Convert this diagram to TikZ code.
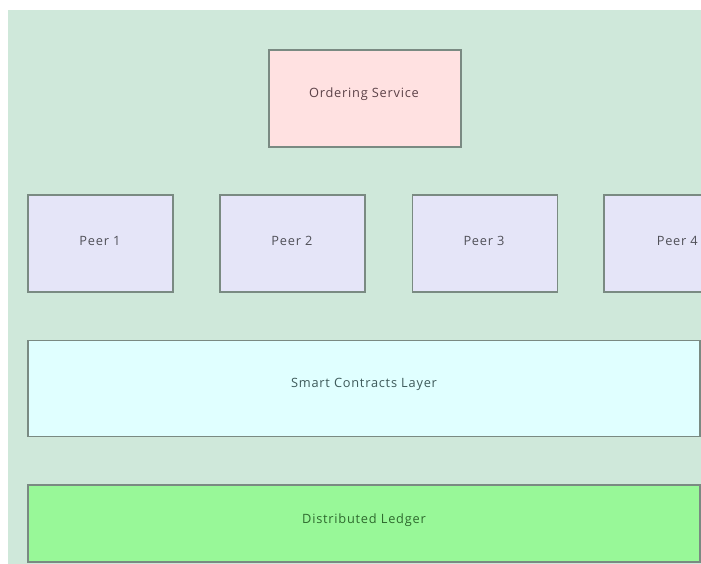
\documentclass[tikz,border=0pt]{standalone}
\usepackage{fontspec}
\setmainfont{Open Sans}[LetterSpace=6]
\definecolor{canvasbg}{HTML}{CFE8DA}
\definecolor{edgegray}{HTML}{7A8A82}
\definecolor{orderfill}{HTML}{FFE1E1}
\definecolor{peerfill}{HTML}{E5E5F8}
\definecolor{contractfill}{HTML}{E0FFFF}
\definecolor{ledgerfill}{HTML}{98F898}
\definecolor{peertext}{HTML}{505058}
\definecolor{ordertext}{HTML}{5C4248}
\definecolor{contracttext}{HTML}{3E5A5A}
\definecolor{ledgertext}{HTML}{2E6A2E}
\begin{document}
\begin{tikzpicture}[x=1pt,y=-1pt,
  block/.style={draw=edgegray,line width=1.4pt,inner sep=0pt},
  caption/.style={font=\fontsize{12.8}{14}\selectfont,inner sep=0pt},
  peerbox/.style={block,fill=peerfill,minimum width=145pt,minimum height=97pt}]
\useasboundingbox (0,0) rectangle (701,564);
\clip (0,0) rectangle (701,564);
% canvas
\fill[canvasbg] (8,10) rectangle (701,564);
% ordering service
\node[block,fill=orderfill,minimum width=192pt,minimum height=97pt] (order) at (365,98.5) {};
\node[caption,text=ordertext] (orderlbl) at (364,94.5) {Ordering Service};
% peers
\node[peerbox] (p1) at (100.5,243.5) {};
\node[peerbox] (p2) at (292.5,243.5) {};
\node[peerbox] (p3) at (485,243.5) {};
\node[peerbox] (p4) at (676.5,243.5) {};
\node[caption,text=peertext] (p1lbl) at (100,240.5) {Peer 1};
\node[caption,text=peertext] (p2lbl) at (292,240.5) {Peer 2};
\node[caption,text=peertext] (p3lbl) at (484,240.5) {Peer 3};
\node[caption,text=peertext,anchor=east] (p4lbl) at (698,240.5) {Peer 4};
% layers
\node[block,fill=contractfill,minimum width=672pt,minimum height=96pt] (contracts) at (364,388.5) {};
\node[caption,text=contracttext] (contractslbl) at (364,384.5) {Smart Contracts Layer};
\node[block,fill=ledgerfill,minimum width=672pt,minimum height=77pt] (ledger) at (364,523.5) {};
\node[caption,text=ledgertext] (ledgerlbl) at (364,520.5) {Distributed Ledger};
\end{tikzpicture}
\end{document}
